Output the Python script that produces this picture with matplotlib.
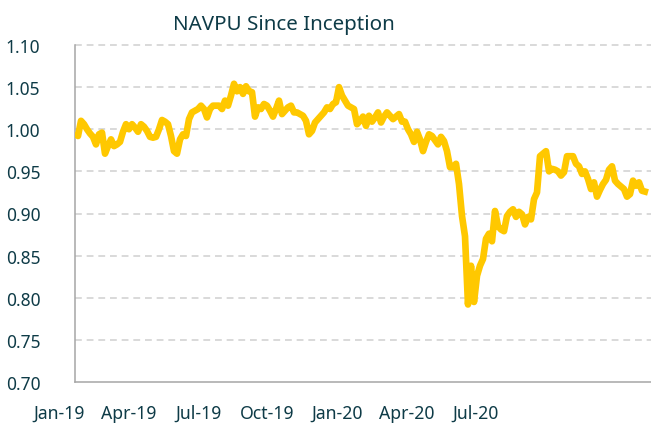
import numpy as np
import matplotlib
matplotlib.use("Agg")
import matplotlib.pyplot as plt
from matplotlib.transforms import ScaledTranslation

# NAVPU, evenly spaced points from inception to latest
navpu = [
    0.995, 0.992, 1.010, 1.006, 1.000, 0.995, 0.991, 0.982, 0.994, 0.996,
    0.971, 0.980, 0.988, 0.980, 0.982, 0.985, 0.997, 1.006, 1.000, 1.006,
    1.002, 0.997, 1.006, 1.003, 0.998, 0.991, 0.990, 0.991, 1.000, 1.011,
    1.009, 1.006, 0.992, 0.974, 0.971, 0.988, 0.994, 0.992, 1.012, 1.020,
    1.022, 1.024, 1.028, 1.024, 1.014, 1.024, 1.028, 1.028, 1.028, 1.024,
    1.034, 1.028, 1.040, 1.054, 1.045, 1.050, 1.042, 1.051, 1.045, 1.044,
    1.015, 1.026, 1.024, 1.030, 1.028, 1.022, 1.015, 1.024, 1.034, 1.018,
    1.022, 1.026, 1.028, 1.020, 1.020, 1.018, 1.016, 1.010, 0.994, 0.998,
    1.008, 1.012, 1.016, 1.020, 1.026, 1.024, 1.030, 1.032, 1.050, 1.040,
    1.034, 1.028, 1.026, 1.024, 1.006, 1.010, 1.015, 1.004, 1.016, 1.009,
    1.014, 1.020, 1.008, 1.015, 1.020, 1.016, 1.012, 1.015, 1.018, 1.009,
    1.009, 1.000, 0.994, 0.985, 0.997, 0.988, 0.974, 0.985, 0.994, 0.992,
    0.987, 0.982, 0.991, 0.986, 0.974, 0.955, 0.955, 0.959, 0.935, 0.897,
    0.873, 0.792, 0.838, 0.795, 0.826, 0.838, 0.846, 0.870, 0.876, 0.867,
    0.903, 0.885, 0.881, 0.879, 0.897, 0.902, 0.905, 0.896, 0.902, 0.899,
    0.887, 0.896, 0.893, 0.917, 0.925, 0.968, 0.971, 0.974, 0.950, 0.953,
    0.952, 0.950, 0.945, 0.949, 0.968, 0.968, 0.968, 0.959, 0.956, 0.947,
    0.950, 0.941, 0.929, 0.937, 0.920, 0.928, 0.935, 0.940, 0.952, 0.956,
    0.939, 0.935, 0.932, 0.929, 0.920, 0.923, 0.939, 0.933, 0.937, 0.927,
    0.926, 0.925,
]
x_labels = ["Jan-19", "Apr-19", "Jul-19", "Oct-19", "Jan-20", "Apr-20", "Jul-20"]
y_ticks = [0.70, 0.75, 0.80, 0.85, 0.90, 0.95, 1.00, 1.05, 1.10]

plt.rcParams['font.family'] = ['Noto Sans', 'DejaVu Sans']
text_color = '#0E3B47'

fig = plt.figure(figsize=(6.51, 4.27), dpi=100)
ax = fig.add_axes([75 / 651, 44 / 427, 576 / 651, 337 / 427])

x = np.arange(len(navpu))
ax.plot(x, navpu, color='#FFC800', lw=4.8, solid_joinstyle='round',
        solid_capstyle='butt', zorder=3)

px_per_pt = 573 / (len(navpu) - 1)
ax.set_xlim(0, 576 / px_per_pt)
ax.set_ylim(0.70, 1.10)

# dashed gridlines (bottom one is the axis line)
for v in y_ticks[1:]:
    ax.axhline(v, color='#D9D9D9', lw=1.4, dashes=(3.5, 2.5), zorder=1, clip_on=False)

ax.set_yticks(y_ticks)
ax.set_yticklabels([f"{v:.2f}" for v in y_ticks])
ax.set_xticks(np.arange(len(x_labels)) * 69.5 / px_per_pt)
ax.set_xticklabels(x_labels)

ax.tick_params(axis='y', length=0, pad=25, labelsize=12.5, labelcolor=text_color)
ax.tick_params(axis='x', length=0, pad=16, labelsize=12.7, labelcolor=text_color)

# labels sit a bit left of their category start
shift = ScaledTranslation(-16 / 100, 0, fig.dpi_scale_trans)
for lab in ax.get_xticklabels():
    lab.set_transform(lab.get_transform() + shift)

for side in ['top', 'right']:
    ax.spines[side].set_visible(False)
for side in ['left', 'bottom']:
    ax.spines[side].set_color('#A6A6A6')
    ax.spines[side].set_linewidth(1.1)

fig.text(283.5 / 651, 1 - 30 / 427, "NAVPU Since Inception", ha='center', va='baseline',
         fontsize=14.8, color=text_color)

fig.savefig('out.png', dpi=100)
